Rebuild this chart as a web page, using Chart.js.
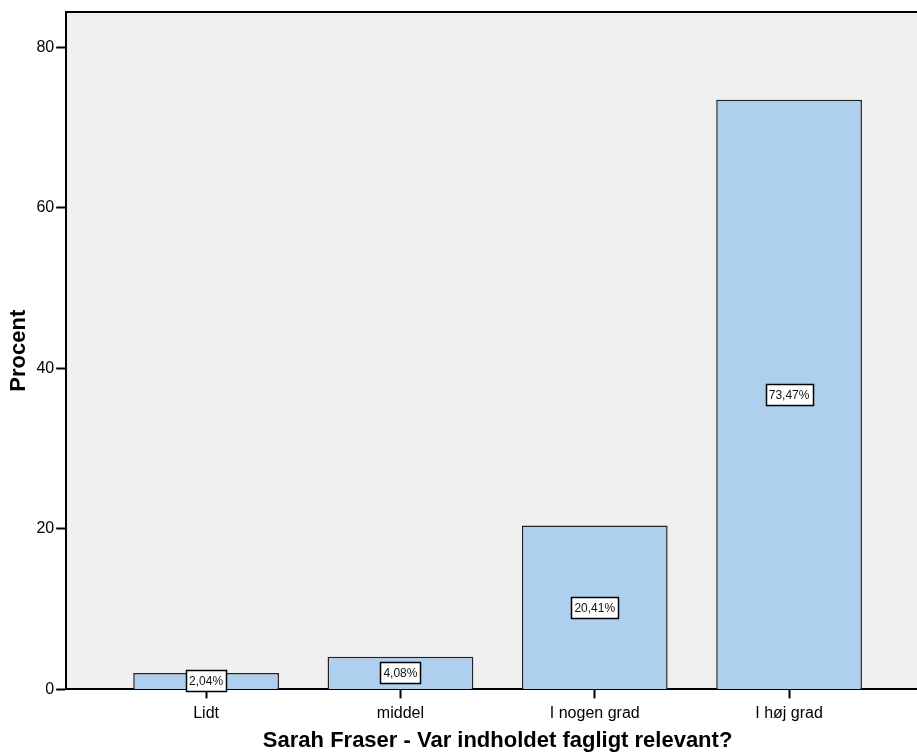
<!DOCTYPE html>
<html>
<head>
<meta charset="utf-8">
<script src="https://cdn.jsdelivr.net/npm/chart.js@4/dist/chart.umd.min.js"></script>
<style>
  html, body { margin: 0; padding: 0; background: #fff; overflow: hidden; }
  #wrap { width: 940px; height: 753px; }
</style>
</head>
<body>
<div id="wrap"><canvas id="grafico" width="940" height="753"></canvas></div>
<script>
  // Data
  const kategorier = ['Lidt', 'middel', 'I nogen grad', 'I høj grad'];
  const procent = [2.04, 4.08, 20.41, 73.47];
  const etiketter = ['2,04%', '4,08%', '20,41%', '73,47%'];
  const yTicks = [0, 20, 40, 60, 80];

  const fontFam = 'Arial, "Liberation Sans", sans-serif';

  // Baggrund og ramme for plotområdet
  const rammePlugin = {
    id: 'ramme',
    beforeDraw(chart) {
      const a = chart.chartArea;
      const c = chart.ctx;
      c.save();
      c.fillStyle = '#f0f0f0';
      c.fillRect(a.left, a.top, a.right - a.left, a.bottom - a.top);
      c.strokeStyle = '#000';
      c.lineWidth = 2;
      c.beginPath();
      c.moveTo(a.left, a.top);
      c.lineTo(a.right, a.top);
      c.lineTo(a.right, a.bottom);
      c.stroke();
      c.restore();
    }
  };

  // Procent-etiketter midt i søjlerne
  const etiketPlugin = {
    id: 'etiketter',
    afterDatasetsDraw(chart) {
      const c = chart.ctx;
      const meta = chart.getDatasetMeta(0);
      c.save();
      c.font = '12px ' + fontFam;
      c.textAlign = 'center';
      c.textBaseline = 'middle';
      meta.data.forEach((bar, i) => {
        const tekst = etiketter[i];
        const w = Math.round(c.measureText(tekst).width + 6);
        const h = 21;
        const cx = bar.x;
        const cy = (bar.y + bar.base) / 2;
        const x0 = Math.round(cx - w / 2) + 0.5;
        const y0 = Math.round(cy - h / 2) + 0.5;
        c.fillStyle = '#fff';
        c.fillRect(x0, y0, w, h);
        c.strokeStyle = '#000';
        c.lineWidth = 1.5;
        c.strokeRect(x0, y0, w, h);
        c.fillStyle = '#111';
        c.fillText(tekst, cx, cy + 1);
      });
      c.restore();
    }
  };

  const ctx = document.getElementById('grafico').getContext('2d');
  const grafico = new Chart(ctx, {
    type: 'bar',
    data: {
      datasets: [{
        label: 'Procent',
        data: procent.map((v, i) => ({ x: i, y: v })),
        backgroundColor: '#aecfee',
        borderColor: '#222',
        borderWidth: 1.5,
        categoryPercentage: 1,
        barPercentage: 0.75
      }]
    },
    options: {
      responsive: false,
      animation: false,
      layout: { padding: { top: 12, left: 6, right: 11, bottom: -1 } },
      plugins: {
        legend: { display: false },
        tooltip: { enabled: false }
      },
      scales: {
        x: {
          type: 'linear',
          offset: false,
          min: -0.72,
          max: kategorier.length - 1 + 0.72,
          afterBuildTicks: (s) => { s.ticks = kategorier.map((_, i) => ({ value: i })); },
          ticks: {
            autoSkip: false,
            maxRotation: 0,
            color: '#000',
            font: { family: fontFam, size: 16 },
            padding: 6,
            callback: (v) => kategorier[v]
          },
          grid: { offset: false, drawOnChartArea: false, drawTicks: true, tickLength: 9, tickColor: '#000', tickWidth: 2 },
          border: { display: true, color: '#000', width: 2 },
          title: {
            display: true,
            text: 'Sarah Fraser - Var indholdet fagligt relevant?',
            color: '#000',
            font: { family: fontFam, size: 22, weight: 'bold' },
            padding: { top: -2, bottom: 0 }
          }
        },
        y: {
          min: 0,
          max: 84.4,
          afterBuildTicks: (s) => { s.ticks = yTicks.map(v => ({ value: v })); },
          ticks: {
            color: '#000',
            font: { family: fontFam, size: 16 },
            padding: 2
          },
          grid: { drawOnChartArea: false, drawTicks: true, tickLength: 10, tickColor: '#000', tickWidth: 2 },
          border: { display: true, color: '#000', width: 2 },
          title: {
            display: true,
            text: 'Procent',
            color: '#000',
            font: { family: fontFam, size: 22, weight: 'bold' },
            padding: { top: 0, bottom: 2 }
          }
        }
      }
    },
    plugins: [rammePlugin, etiketPlugin]
  });
</script>
</body>
</html>
